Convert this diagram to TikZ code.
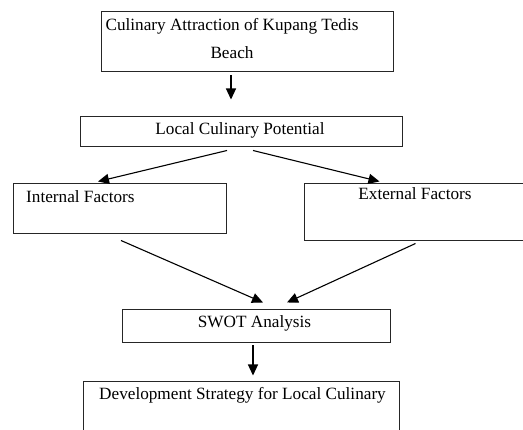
\documentclass[tikz,border=0pt]{standalone}
\usepackage{fontspec}
\setmainfont{Liberation Serif}
\usetikzlibrary{arrows.meta}

\begin{document}
\begin{tikzpicture}[x=1pt, y=-1pt, every node/.style={font=\fontsize{17.2}{28}\selectfont}, box/.style={draw=black!85, line width=1pt, inner sep=0pt}, flow/.style={->, line width=1.1pt}, >={Triangle[length=11pt, width=10pt]}]
	\useasboundingbox (0,0) rectangle (523,430);
	\clip (0,0) rectangle (523,430);
	\node[box, minimum width=292pt, minimum height=60pt] (attr) at (247,42) {};
	\node[align=center] (attrtext) at (232,39) {Culinary Attraction of Kupang Tedis\\Beach};
	\node[box, minimum width=322pt, minimum height=30pt] (local) at (241,132) {};
	\node[anchor=base] (localtext) at (240,134.7) {Local Culinary Potential};
	\node[box, minimum width=213pt, minimum height=50pt] (internal) at (119.5,209) {};
	\node[anchor=base west, inner sep=0pt] (internaltext) at (26,202.7) {Internal Factors};
	\node[box, minimum width=236pt, minimum height=57pt] (external) at (422,212.5) {};
	\node[anchor=base] (externaltext) at (415,200) {External Factors};
	\node[box, minimum width=268pt, minimum height=33pt] (swot) at (256,326.5) {};
	\node[anchor=base] (swottext) at (254.5,328) {SWOT Analysis};
	\node[box, minimum width=316pt, minimum height=68pt] (dev) at (241,416) {};
	\node[anchor=base] (devtext) at (242.5,400) {Development Strategy for Local Culinary};
	\draw[flow] ([xshift=-16pt, yshift=-3pt]attr.south) -- ([xshift=-10pt, yshift=17pt]local.north);
	\draw[flow] ([xshift=-14pt, yshift=-3pt]local.south) -- ([xshift=-21.5pt, yshift=2pt]internal.north);
	\draw[flow] ([xshift=12pt, yshift=-3pt]local.south) -- ([xshift=76pt, yshift=2pt]external.north west);
	\draw[flow] ([xshift=1.5pt, yshift=-6pt]internal.south) -- ([xshift=7pt, yshift=7pt]swot.north);
	\draw[flow] ([xshift=112pt, yshift=-2pt]external.south west) -- ([xshift=31pt, yshift=7pt]swot.north);
	\draw[flow] ([xshift=-3pt, yshift=-2pt]swot.south) -- ([xshift=12pt, yshift=6pt]dev.north);
\end{tikzpicture}
\end{document}
